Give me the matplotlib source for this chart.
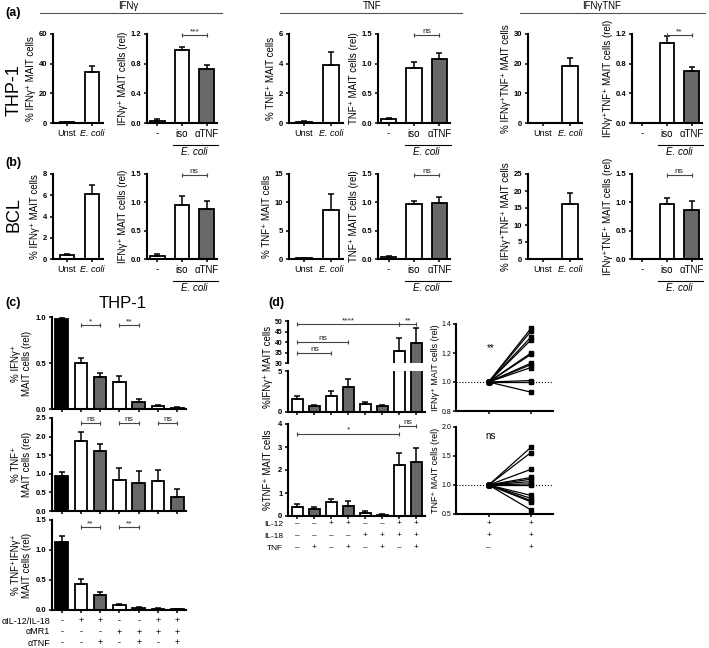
import matplotlib
matplotlib.use('Agg')
import matplotlib.pyplot as plt
import matplotlib.transforms as mtransforms
import numpy as np

plt.rcParams['font.family'] = ['Liberation Sans', 'DejaVu Sans']

W, H = 709, 648
GREY = '#686868'

# ---- (a) THP-1 / (b) BCL : % cells and relative ----
pct_labels = ['Unst', 'E. coli']
rel_labels = ['-', 'iso', 'αTNF']

a_ifng_pct = [0.5, 34.5]
a_ifng_pct_err = [0.3, 4.0]
a_ifng_rel = [0.03, 0.98, 0.73]
a_ifng_rel_err = [0.02, 0.05, 0.05]
a_tnf_pct = [0.1, 3.9]
a_tnf_pct_err = [0.05, 0.9]
a_tnf_rel = [0.06, 0.93, 1.08]
a_tnf_rel_err = [0.03, 0.10, 0.10]
a_dp_pct = [0.0, 19.3]
a_dp_pct_err = [0.0, 2.7]
a_dp_rel = [0.0, 1.08, 0.70]
a_dp_rel_err = [0.0, 0.09, 0.05]
a_sig = ['***', 'ns', '**']

b_ifng_pct = [0.4, 6.1]
b_ifng_pct_err = [0.1, 0.9]
b_ifng_rel = [0.06, 0.95, 0.89]
b_ifng_rel_err = [0.03, 0.16, 0.14]
b_tnf_pct = [0.15, 8.7]
b_tnf_pct_err = [0.1, 2.7]
b_tnf_rel = [0.04, 0.97, 0.99]
b_tnf_rel_err = [0.02, 0.06, 0.10]
b_dp_pct = [0.0, 16.2]
b_dp_pct_err = [0.0, 3.2]
b_dp_rel = [0.0, 0.97, 0.87]
b_dp_rel_err = [0.0, 0.10, 0.15]
b_sig = ['ns', 'ns', 'ns']

# ---- (c) THP-1 blocking ----
c_ifng = [0.98, 0.50, 0.35, 0.29, 0.08, 0.03, 0.01]
c_ifng_err = [0.02, 0.05, 0.04, 0.07, 0.03, 0.015, 0.01]
c_tnf = [0.93, 1.88, 1.62, 0.82, 0.75, 0.80, 0.38]
c_tnf_err = [0.12, 0.25, 0.17, 0.33, 0.32, 0.30, 0.22]
c_dp = [1.13, 0.43, 0.25, 0.08, 0.03, 0.02, 0.01]
c_dp_err = [0.10, 0.08, 0.05, 0.02, 0.02, 0.01, 0.01]
c_il1218 = ['-', '+', '+', '-', '-', '+', '+']
c_mr1 = ['-', '-', '-', '+', '+', '+', '+']
c_atnf = ['-', '-', '+', '-', '+', '-', '+']

# ---- (d) cytokine stimulation ----
d_ifng = [1.6, 0.7, 2.0, 3.1, 1.0, 0.7, 35.5, 39.5]
d_ifng_err = [0.3, 0.1, 0.55, 0.9, 0.25, 0.2, 6.5, 7.0]
d_tnf = [0.4, 0.3, 0.6, 0.45, 0.15, 0.05, 2.2, 2.35]
d_tnf_err = [0.12, 0.08, 0.15, 0.2, 0.05, 0.02, 0.55, 0.62]
d_il12 = ['–', '–', '+', '+', '–', '–', '+', '+']
d_il18 = ['–', '–', '–', '–', '+', '+', '+', '+']
d_tnf_row = ['–', '+', '–', '+', '–', '+', '–', '+']

p_ifng_after = [1.37, 1.35, 1.31, 1.29, 1.20, 1.19, 1.13, 1.12, 1.10, 1.01, 1.00, 0.93]
p_tnf_after = [1.65, 1.56, 1.27, 1.13, 1.10, 1.06, 1.02, 1.00, 0.82, 0.77, 0.73, 0.71, 0.57]
p_il12 = ['+', '+']
p_il18 = ['+', '+']
p_tnf_row = ['–', '+']


def fy(ypix):
    return 1 - ypix / H


def px_axes(fig, x0, y0, x1, y1):
    return fig.add_axes([x0 / W, 1 - y1 / H, (x1 - x0) / W, (y1 - y0) / H])


def style(ax):
    for s in ['top', 'right']:
        ax.spines[s].set_visible(False)
    ax.spines['left'].set_linewidth(1.5)
    ax.spines['bottom'].set_linewidth(1.5)
    ax.tick_params(direction='out', length=2.5, width=1.1, labelsize=5.5, pad=1.5)


def bars(ax, vals, errs, colors, width):
    x = np.arange(len(vals))
    ax.bar(x, vals, width, color=colors, edgecolor='k', linewidth=1.3, zorder=2)
    ax.errorbar(x, vals, yerr=[np.zeros(len(vals)), errs], fmt='none',
                ecolor='k', elinewidth=1.1, capsize=2.5, capthick=1.1, zorder=3)
    style(ax)


def bracket(ax, x0, x1, y, label, fs=6):
    ax.plot([x0, x1], [y, y], color='#444444', lw=0.8, marker='|',
            markersize=3, markeredgewidth=0.8, clip_on=False, zorder=4)
    ax.text((x0 + x1) / 2, y, label, ha='center', va='bottom', fontsize=fs,
            color='#222222')


def set_y(ax, ticks, labels, top):
    ax.set_ylim(0, top)
    ax.set_yticks(ticks)
    ax.set_yticklabels(labels, fontweight='bold')


def pair_panels(fig, x_pct, x_rel, ytop, ybot, pct, pct_err, rel, rel_err,
                sig, pct_ticks, pct_labs, rel_ticks, rel_labs, ylab_pct, ylab_rel):
    ax1 = px_axes(fig, x_pct[0], ytop, x_pct[1], ybot)
    bars(ax1, pct, pct_err, ['white', 'white'], 0.58)
    ax1.set_xlim(-0.55, 1.45)
    set_y(ax1, pct_ticks, pct_labs, pct_ticks[-1])
    ax1.set_xticks([0, 1])
    ax1.set_xticklabels(pct_labels, fontsize=6.5)
    ax1.get_xticklabels()[1].set_style('italic')
    ax1.set_ylabel(ylab_pct, fontsize=7, labelpad=2)

    ax2 = px_axes(fig, x_rel[0], ytop, x_rel[1], ybot)
    bars(ax2, rel, rel_err, ['white', 'white', GREY], 0.6)
    ax2.set_xlim(-0.42, 2.42)
    set_y(ax2, rel_ticks, rel_labs, rel_ticks[-1])
    ax2.set_xticks([0, 1, 2])
    ax2.set_xticklabels(rel_labels, fontsize=7)
    ax2.set_ylabel(ylab_rel, fontsize=7, labelpad=2)
    bracket(ax2, 1, 2, rel_ticks[-1] * 0.985, sig)
    tr = mtransforms.blended_transform_factory(ax2.transData, fig.transFigure)
    ax2.plot([0.65, 2.45], [fy(ybot + 22)] * 2, color='k', lw=0.8,
             transform=tr, clip_on=False)
    fig.text(1.5, fy(ybot + 29), 'E. coli', transform=tr, ha='center',
             va='center', fontsize=7, style='italic')


def table_rows(fig, ax, rows, ys, fs=5.5):
    tr = mtransforms.blended_transform_factory(ax.transData, fig.transFigure)
    for row, yp in zip(rows, ys):
        for i, s in enumerate(row):
            fig.text(i, fy(yp), s, transform=tr, ha='center', va='center',
                     fontsize=fs)


fig = plt.figure(figsize=(W / 100, H / 100), dpi=100)

# headers
for name, xc, x0, x1 in [('IFNγ', 128, 40, 222), ('TNF', 372, 280, 462),
                         ('IFNγTNF', 602, 520, 705)]:
    fig.text(xc / W, fy(6), name, ha='center', va='center', fontsize=7)
    fig.add_artist(plt.Line2D([x0 / W, x1 / W], [fy(13), fy(13)],
                              color='#555555', lw=0.8))

fig.text(5 / W, fy(13), '(a)', fontsize=9, fontweight='bold', va='center')
fig.text(5 / W, fy(163), '(b)', fontsize=9, fontweight='bold', va='center')
fig.text(5 / W, fy(303), '(c)', fontsize=9, fontweight='bold', va='center')
fig.text(268 / W, fy(303), '(d)', fontsize=9, fontweight='bold', va='center')
fig.text(14 / W, fy(90), 'THP-1', rotation=90, fontsize=13, ha='center', va='center')
fig.text(14 / W, fy(215), 'BCL', rotation=90, fontsize=13, ha='center', va='center')
fig.text(123 / W, fy(303), 'THP-1', fontsize=12, ha='center', va='center')

rel12 = ([0, 0.4, 0.8, 1.2], ['0.0', '0.4', '0.8', '1.2'])
rel15 = ([0, 0.5, 1.0, 1.5], ['0.0', '0.5', '1.0', '1.5'])

rows = [
    (34, 123, [a_ifng_pct, a_ifng_pct_err, a_ifng_rel, a_ifng_rel_err,
               a_tnf_pct, a_tnf_pct_err, a_tnf_rel, a_tnf_rel_err,
               a_dp_pct, a_dp_pct_err, a_dp_rel, a_dp_rel_err], a_sig,
     [([0, 20, 40, 60], ['0', '20', '40', '60']), rel12,
      ([0, 2, 4, 6], ['0', '2', '4', '6']), rel15,
      ([0, 10, 20, 30], ['0', '10', '20', '30']), rel12]),
    (174, 259, [b_ifng_pct, b_ifng_pct_err, b_ifng_rel, b_ifng_rel_err,
                b_tnf_pct, b_tnf_pct_err, b_tnf_rel, b_tnf_rel_err,
                b_dp_pct, b_dp_pct_err, b_dp_rel, b_dp_rel_err], b_sig,
     [([0, 2, 4, 6, 8], ['0', '2', '4', '6', '8']), rel15,
      ([0, 5, 10, 15], ['0', '5', '10', '15']), rel15,
      ([0, 5, 10, 15, 20, 25], ['0', '5', '10', '15', '20', '25']), rel15]),
]
xboxes = [((53, 103), (147, 217)), ((289, 343), (378, 450)), ((528, 582), (632, 702))]
ylabs = [('% IFNγ⁺ MAIT cells', 'IFNγ⁺ MAIT cells (rel)'),
         ('% TNF⁺ MAIT cells', 'TNF⁺ MAIT cells (rel)'),
         ('% IFNγ⁺TNF⁺ MAIT cells', 'IFNγ⁺TNF⁺ MAIT cells (rel)')]

for ytop, ybot, d, sig, ticks in rows:
    for k in range(3):
        pct, pct_err, rel, rel_err = d[4 * k:4 * k + 4]
        pair_panels(fig, xboxes[k][0], xboxes[k][1], ytop, ybot, pct, pct_err,
                    rel, rel_err, sig[k], ticks[2 * k][0], ticks[2 * k][1],
                    ticks[2 * k + 1][0], ticks[2 * k + 1][1],
                    ylabs[k][0], ylabs[k][1])

# ---- (c) ----
c_colors = ['black', 'white', GREY, 'white', GREY, 'white', GREY]
c_specs = [
    (317, 409, c_ifng, c_ifng_err, ([0, 0.5, 1.0], ['0.0', '0.5', '1.0']),
     '% IFNγ⁺\nMAIT cells (rel)', [(1, 2, 0.91, '*'), (3, 4, 0.91, '**')]),
    (418, 511, c_tnf, c_tnf_err,
     ([0, 0.5, 1.0, 1.5, 2.0, 2.5], ['0.0', '0.5', '1.0', '1.5', '2.0', '2.5']),
     '% TNF⁺\nMAIT cells (rel)', [(1, 2, 2.37, 'ns'), (3, 4, 2.37, 'ns'), (5, 6, 2.37, 'ns')]),
    (520, 610, c_dp, c_dp_err, ([0, 0.5, 1.0, 1.5], ['0.0', '0.5', '1.0', '1.5']),
     '% TNF⁺IFNγ⁺\nMAIT cells (rel)', [(1, 2, 1.38, '**'), (3, 4, 1.38, '**')]),
]
for ytop, ybot, vals, errs, (tk, tl), ylab, sigs in c_specs:
    ax = px_axes(fig, 52, ytop, 186, ybot)
    bars(ax, vals, errs, c_colors, 0.65)
    ax.set_xlim(-0.5, 6.45)
    set_y(ax, tk, tl, tk[-1])
    ax.set_xticks(range(7))
    ax.set_xticklabels([])
    ax.set_ylabel(ylab, fontsize=7, labelpad=3, linespacing=1.1)
    for x0, x1, y, lab in sigs:
        bracket(ax, x0, x1, y, lab)
    c_last = ax

table_rows(fig, c_last, [c_il1218, c_mr1, c_atnf], [621, 632, 643], fs=6.5)
for lab, yp in [('αIL-12/IL-18', 621), ('αMR1', 632), ('αTNF', 643)]:
    fig.text(50 / W, fy(yp), lab, ha='right', va='center', fontsize=6.5)

# ---- (d) left: broken IFNg axis ----
d_colors = ['white', GREY] * 4
axt = px_axes(fig, 288, 321, 425, 363)
axb = px_axes(fig, 288, 371, 425, 412)
for ax in (axt, axb):
    bars(ax, d_ifng, d_ifng_err, d_colors, 0.67)
    ax.set_xlim(-0.55, 7.5)
    ax.set_xticks(range(8))
axt.spines['bottom'].set_visible(False)
axt.tick_params(axis='x', length=0, labelbottom=False)
axt.set_ylim(30, 50)
axt.set_yticks([30, 35, 40, 45, 50])
axt.set_yticklabels(['30', '35', '40', '45', '50'], fontweight='bold', fontsize=5)
axb.set_ylim(0, 5)
axb.set_yticks([0, 5])
axb.set_yticklabels(['0', '5'], fontweight='bold')
axb.set_xticklabels([])
bracket(axt, 0, 6, 48.6, '****')
bracket(axt, 6, 7, 48.6, '**')
bracket(axt, 0, 3, 40.0, 'ns')
bracket(axt, 0, 2, 34.8, 'ns')
fig.text(268 / W, fy(367), '%IFNγ⁺ MAIT cells', rotation=90, ha='center',
         va='center', fontsize=7)

axd = px_axes(fig, 288, 424, 425, 516)
bars(axd, d_tnf, d_tnf_err, d_colors, 0.67)
axd.set_xlim(-0.55, 7.5)
set_y(axd, [0, 1, 2, 3, 4], ['0', '1', '2', '3', '4'], 4)
axd.set_xticks(range(8))
axd.set_xticklabels([])
axd.set_ylabel('%TNF⁺ MAIT cells', fontsize=7, labelpad=4)
bracket(axd, 0, 6, 3.57, '*')
bracket(axd, 6, 7, 3.9, 'ns')
table_rows(fig, axd, [d_il12, d_il18, d_tnf_row], [524, 536, 548], fs=6)
for lab, yp in [('IL-12', 524), ('IL-18', 536), ('TNF', 548)]:
    fig.text(283 / W, fy(yp), lab, ha='right', va='center', fontsize=6)

# ---- (d) right: paired ----
p_specs = [
    (324, 411, p_ifng_after, (0.8, 1.4), [0.8, 1.0, 1.2, 1.4],
     ['0.8', '1.0', '1.2', '1.4'], 'IFNγ⁺ MAIT cells (rel)', '**', 1.2),
    (427, 514, p_tnf_after, (0.5, 2.0), [0.5, 1.0, 1.5, 2.0],
     ['0.5', '1.0', '1.5', '2.0'], 'TNF⁺ MAIT cells (rel)', 'ns', 1.75),
]
for ytop, ybot, after, ylim, tk, tl, ylab, sig, sy in p_specs:
    ax = px_axes(fig, 456, ytop, 553, ybot)
    style(ax)
    ax.tick_params(axis='y', labelsize=5, pad=1)
    ax.axhline(1.0, color='k', ls=':', lw=0.8, zorder=1)
    for v in after:
        ax.plot([0, 1], [1.0, v], color='k', lw=0.9, marker='s',
                markersize=3.2, zorder=3, clip_on=False)
    ax.set_xlim(-0.77, 1.52)
    ax.set_ylim(*ylim)
    ax.set_yticks(tk)
    ax.set_yticklabels(tl)
    ax.set_xticks([0, 1])
    ax.set_xticklabels([])
    ax.set_ylabel(ylab, fontsize=6.5, labelpad=1)
    ax.text(0.05, sy, sig, ha='center', va='bottom', fontsize=7)
    p_last = ax

table_rows(fig, p_last, [p_il12, p_il18, p_tnf_row], [524, 536, 548], fs=6)

fig.savefig('out.png', dpi=100)
